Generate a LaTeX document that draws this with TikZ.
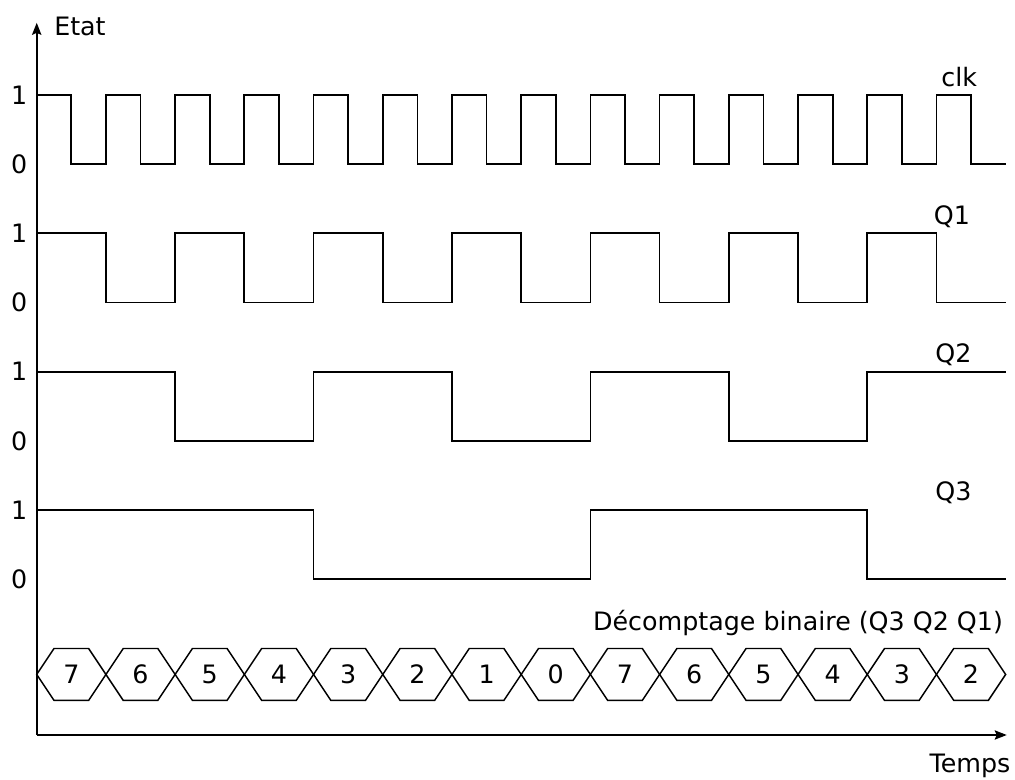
\documentclass[tikz,border=0pt]{standalone}
\usepackage{fontspec}
\setmainfont{DejaVu Sans}
\usetikzlibrary{arrows.meta}
\tikzstyle{every node}=[inner sep=0pt, font=\fontsize{19}{23}\selectfont]
\tikzset{signal/.style={line width=1.3pt, line join=miter}}
\tikzset{axis/.style={line width=1.3pt, -{Stealth[length=9pt,width=7pt,inset=1.5pt]}}}
\tikzset{hexa/.style={line width=1.1pt}}

\begin{document}
\begin{tikzpicture}[x=25.95pt,y=25.95pt]
		\useasboundingbox (-1.061,-1.272) rectangle (28.27,21.24);
		\coordinate (origin) at (0,0);
		\coordinate (yend) at (0,20.58);
		\coordinate (xend) at (28.03,0);
		\draw[axis] (origin) -- (yend);
		\draw[axis] (origin) -- (xend);
		\node (etat) at (1.25,20.47) {Etat};
		\node (temps) at (26.97,-0.9) {Temps};
		% niveaux
		\node (clkhi) at (-0.51,18.5) {1};
		\node (clklo) at (-0.51,16.5) {0};
		\node (qunhi) at (-0.51,14.5) {1};
		\node (qunlo) at (-0.51,12.5) {0};
		\node (qdeuxhi) at (-0.51,10.5) {1};
		\node (qdeuxlo) at (-0.51,8.5) {0};
		\node (qtroishi) at (-0.51,6.5) {1};
		\node (qtroislo) at (-0.51,4.5) {0};
		% signaux
		\draw[signal] (0,18.5) foreach \i in {1,...,13} {-- ++(1,0) -- ++(0,-2) -- ++(1,0) -- ++(0,2)}
			-- ++(1,0) -- ++(0,-2) -- ++(1,0);
		\draw[signal] (0,14.5) foreach \i in {1,...,6} {-- ++(2,0) -- ++(0,-2) -- ++(2,0) -- ++(0,2)}
			-- ++(2,0) -- ++(0,-2) -- ++(2,0);
		\draw[signal] (0,10.5) foreach \i in {1,...,3} {-- ++(4,0) -- ++(0,-2) -- ++(4,0) -- ++(0,2)}
			-- ++(4,0);
		\draw[signal] (0,6.5) -- ++(8,0) -- ++(0,-2) -- ++(8,0) -- ++(0,2) -- ++(8,0) -- ++(0,-2) -- ++(4,0);
		\node (clk) at (26.66,19.02) {clk};
		\node (qun) at (26.45,14.97) {Q1};
		\node (qdeux) at (26.49,10.98) {Q2};
		\node (qtrois) at (26.49,6.99) {Q3};
		% decomptage
		\node (decompte) at (22.0,3.24) {Décomptage binaire (Q3 Q2 Q1)};
		\foreach \v [count=\k from 0] in {7,6,5,4,3,2,1,0,7,6,5,4,3,2} {
			\draw[hexa] (2*\k,1.75) -- ++(0.5,0.75) -- ++(1,0) -- ++(0.5,-0.75) -- ++(-0.5,-0.75) -- ++(-1,0) -- cycle;
			\node (etat\k) at (2*\k+1,1.75) {\v};
		}
\end{tikzpicture}
\end{document}
